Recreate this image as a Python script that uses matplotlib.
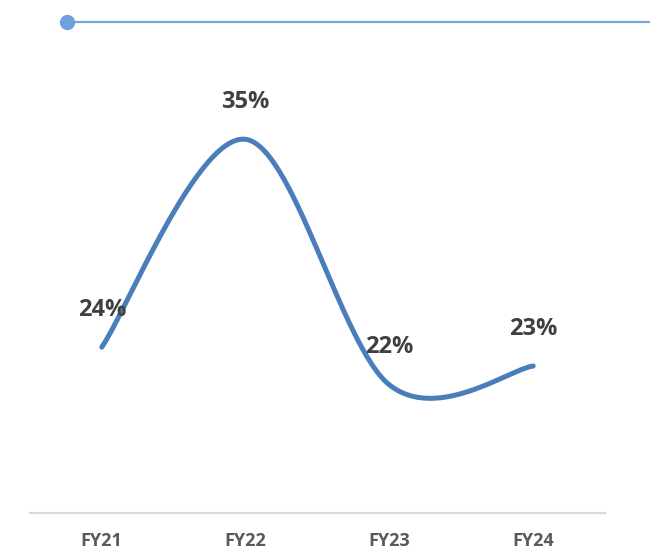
import numpy as np
import matplotlib.pyplot as plt
from matplotlib.lines import Line2D

# Yearly margin values
years = ["FY21", "FY22", "FY23", "FY24"]
margin = [24, 35, 22, 23]

LINE_BLUE = "#4a7ebb"
LABEL_GREY = "#404040"
TICK_GREY = "#595959"

plt.rcParams["font.family"] = ["Open Sans", "DejaVu Sans"]


def smooth(xs, ys, n=60):
    """Catmull-Rom curve through the points (Excel-style smoothed line)."""
    px = np.concatenate([[xs[0]], xs, [xs[-1]]]).astype(float)
    py = np.concatenate([[ys[0]], ys, [ys[-1]]]).astype(float)
    out_x, out_y = [], []
    t = np.linspace(0, 1, n)
    h00 = 2 * t**3 - 3 * t**2 + 1
    h10 = t**3 - 2 * t**2 + t
    h01 = -2 * t**3 + 3 * t**2
    h11 = t**3 - t**2
    for i in range(1, len(px) - 2):
        mx0 = (px[i + 1] - px[i - 1]) / 2
        mx1 = (px[i + 2] - px[i]) / 2
        my0 = (py[i + 1] - py[i - 1]) / 2
        my1 = (py[i + 2] - py[i]) / 2
        out_x.append(h00 * px[i] + h10 * mx0 + h01 * px[i + 1] + h11 * mx1)
        out_y.append(h00 * py[i] + h10 * my0 + h01 * py[i + 1] + h11 * my1)
    return np.concatenate(out_x), np.concatenate(out_y)


fig = plt.figure(figsize=(6.5, 5.57), dpi=100)
ax = fig.add_axes([0.046, 0.079, 0.885, 0.831])

x = np.arange(len(years))
sx, sy = smooth(x, margin)
ax.plot(sx, sy, color=LINE_BLUE, lw=3.6, solid_capstyle="round")

for xi, v in zip(x, margin):
    ax.annotate(f"{v:.0f}%", (xi, v), xytext=(0, 27), textcoords="offset points",
                ha="center", va="center", fontsize=17, fontweight="bold",
                color=LABEL_GREY)

ax.set_xlim(-0.5, len(years) - 0.5)
ax.set_ylim(15.22, 39.72)
ax.set_xticks(x)
ax.set_xticklabels(years, fontsize=13, fontweight="bold", color=TICK_GREY)
ax.tick_params(axis="x", length=0, pad=14)
ax.set_yticks([])
for side in ["left", "right", "top"]:
    ax.spines[side].set_visible(False)
ax.spines["bottom"].set_color("#d9d9d9")
ax.spines["bottom"].set_linewidth(1.6)

# header rule with dot
fig.add_artist(Line2D([67 / 650, 1.0], [1 - 22 / 557] * 2, color="#7aa6dc", lw=1.6))
fig.add_artist(Line2D([67 / 650], [1 - 22 / 557], marker="o", markersize=10,
                      color="#6fa0dc"))

fig.savefig("out.png", dpi=100)
